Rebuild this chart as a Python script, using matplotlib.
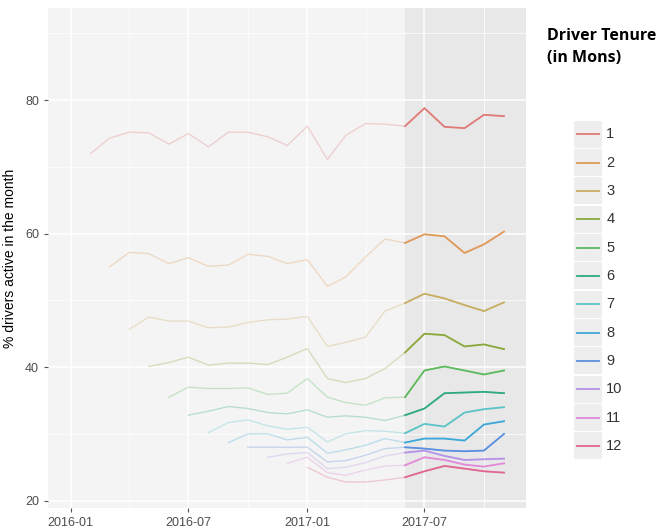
#!/usr/bin/env python3
"""Driver retention by tenure cohort, last months highlighted."""

import pandas as pd
import matplotlib
matplotlib.use("Agg")
import matplotlib.pyplot as plt
import matplotlib.dates as mdates
from matplotlib.patches import Rectangle
from matplotlib.ticker import MultipleLocator

# months covered by the data
months = pd.date_range("2016-02-01", "2017-11-01", freq="MS")

# % active per cohort, each cohort starts one month after the previous
t1 = [72.0, 74.3, 75.2, 75.1, 73.4, 75.0, 73.0, 75.2, 75.2, 74.5, 73.2,
      76.1, 71.1, 74.7, 76.5, 76.4, 76.1, 78.8, 76.0, 75.8, 77.8, 77.6]
t2 = [55.0, 57.2, 57.0, 55.5, 56.4, 55.1, 55.3, 56.9, 56.6, 55.5,
      56.1, 52.1, 53.5, 56.5, 59.2, 58.6, 59.9, 59.6, 57.1, 58.4, 60.3]
t3 = [45.7, 47.5, 46.9, 46.9, 45.9, 46.0, 46.7, 47.1, 47.2,
      47.6, 43.1, 43.7, 44.5, 48.4, 49.6, 51.0, 50.3, 49.3, 48.4, 49.7]
t4 = [40.1, 40.7, 41.5, 40.3, 40.6, 40.6, 40.4, 41.5,
      42.8, 38.3, 37.7, 38.3, 39.8, 42.2, 45.0, 44.8, 43.1, 43.4, 42.7]
t5 = [35.5, 37.0, 36.8, 36.8, 36.9, 35.9, 36.1,
      38.3, 35.5, 34.7, 34.3, 35.4, 35.5, 39.5, 40.1, 39.5, 38.9, 39.5]
t6 = [32.8, 33.4, 34.1, 33.8, 33.2, 33.0,
      33.6, 32.5, 32.7, 32.5, 32.0, 32.8, 33.8, 36.1, 36.2, 36.3, 36.1]
t7 = [30.2, 31.7, 32.1, 31.2, 30.7,
      31.0, 28.8, 30.0, 30.5, 30.4, 30.1, 31.5, 31.1, 33.2, 33.7, 34.0]
t8 = [28.7, 30.0, 30.0, 29.1,
      29.5, 27.1, 27.6, 28.3, 29.3, 28.7, 29.3, 29.3, 29.0, 31.4, 31.9]
t9 = [28.0, 28.0, 28.0,
      28.0, 25.8, 26.0, 26.8, 27.8, 28.0, 27.8, 27.5, 27.4, 27.5, 30.0]
t10 = [26.5, 27.0,
       27.2, 24.8, 25.0, 25.7, 26.7, 27.2, 27.5, 26.7, 26.1, 26.2, 26.3]
t11 = [25.6,
       26.5, 24.2, 23.8, 24.6, 25.2, 25.3, 26.5, 26.1, 25.4, 25.1, 25.6]
t12 = [25.0, 23.5, 22.8, 22.8, 23.1, 23.5, 24.4, 25.2, 24.8, 24.4, 24.2]

series = [t1, t2, t3, t4, t5, t6, t7, t8, t9, t10, t11, t12]
labels = [str(i) for i in range(1, 13)]
colors = ["#e07b78", "#e09a5a", "#c8ad62", "#8aa83c", "#5dbb5d", "#2eaa7e",
          "#5cc4c8", "#3ea8d8", "#5b8fe0", "#b493e8", "#e08ad8", "#e0668f"]

highlight_start = pd.Timestamp("2017-06-01")

plt.rcParams["font.family"] = ["Liberation Sans", "DejaVu Sans"]

fig = plt.figure(figsize=(6.66, 5.3), dpi=100)
ax = fig.add_axes([48 / 666, 1 - 508 / 530, (526 - 48) / 666, 500 / 530])
ax.set_facecolor("#f4f4f4")

xmin, xmax = pd.Timestamp("2015-11-27"), pd.Timestamp("2017-12-05")
ax.axvspan(highlight_start, xmax, color="#e8e8e8", zorder=0.3, lw=0)

for vals, col in zip(series, colors):
    x = months[len(months) - len(vals):]
    s = pd.Series(vals, index=x)
    ax.plot(s.index, s.values, color=col, lw=1.0, alpha=0.3, zorder=2)
    hi = s[s.index >= highlight_start]
    ax.plot(hi.index, hi.values, color=col, lw=1.3, zorder=3)

ax.set_xlim(xmin, xmax)
ax.set_ylim(18.9, 93.8)

ax.xaxis.set_major_locator(mdates.MonthLocator(bymonth=[1, 7]))
ax.xaxis.set_minor_locator(mdates.MonthLocator(bymonth=[4, 10]))
ax.xaxis.set_major_formatter(mdates.DateFormatter("%Y-%m"))
ax.yaxis.set_major_locator(MultipleLocator(20))
ax.yaxis.set_minor_locator(MultipleLocator(10))

ax.set_axisbelow(True)
ax.grid(which="major", color="white", lw=1.1)
ax.grid(which="minor", color="white", lw=0.5)
for sp in ax.spines.values():
    sp.set_visible(False)
ax.tick_params(which="major", length=3, color="#555555", labelsize=9,
               labelcolor="#4d4d4d")
ax.tick_params(which="minor", length=0)
ax.set_ylabel("% drivers active in the month", fontsize=10, labelpad=6)

# legend drawn ggplot style, grey box behind each key
fig.text(547 / 666, 1 - 47 / 530, "Driver Tenure\n(in Mons)", ha="left",
         va="center", fontsize=11.5, fontweight="bold", family="Open Sans",
         linespacing=1.45)
lax = fig.add_axes([574 / 666, 1 - 460 / 530, 28 / 666, 340 / 530])
lax.set_xlim(0, 1)
lax.set_ylim(len(labels) - 0.5, -0.5)
lax.axis("off")
for i, (lab, col) in enumerate(zip(labels, colors)):
    lax.add_patch(Rectangle((0, i - 0.48), 1, 0.96, facecolor="#eeeeee",
                            edgecolor="none"))
    lax.plot([0.12, 0.88], [i, i], color=col, lw=1.3)
    lax.text(1.15, i, lab, va="center", ha="left", fontsize=10.5,
             color="#333333", clip_on=False)

fig.savefig("out.png", dpi=100)
